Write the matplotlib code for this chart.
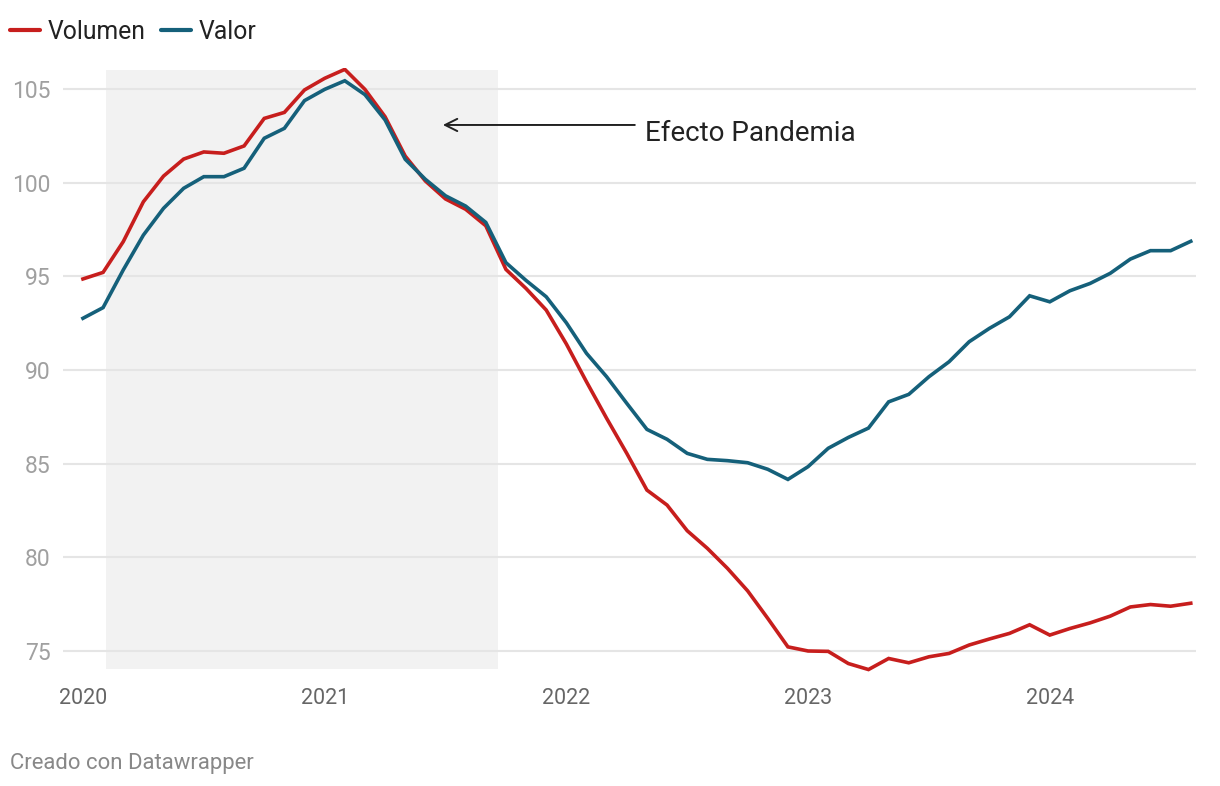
import numpy as np
import matplotlib
matplotlib.use("Agg")
import matplotlib.pyplot as plt

plt.rcParams['font.family'] = ['Roboto', 'DejaVu Sans']

# Indice mensual, enero 2020 - agosto 2024
volumen = [94.86, 95.21, 96.85, 98.98, 100.35, 101.26, 101.64, 101.57, 101.96, 103.43,
           103.75, 104.95, 105.57, 106.05, 104.98, 103.52, 101.42, 100.09, 99.13, 98.58,
           97.70, 95.37, 94.35, 93.20, 91.39, 89.37, 87.42, 85.55, 83.59, 82.79,
           81.42, 80.48, 79.41, 78.21, 76.74, 75.22, 75.00, 74.98, 74.33, 74.01,
           74.60, 74.37, 74.69, 74.87, 75.32, 75.64, 75.94, 76.40, 75.85, 76.20,
           76.50, 76.86, 77.35, 77.48, 77.39, 77.55]
valor = [92.76, 93.33, 95.34, 97.20, 98.63, 99.70, 100.32, 100.32, 100.77, 102.37,
         102.90, 104.38, 104.98, 105.44, 104.70, 103.35, 101.25, 100.18, 99.30, 98.75,
         97.88, 95.73, 94.78, 93.91, 92.52, 90.89, 89.64, 88.22, 86.83, 86.30,
         85.55, 85.23, 85.16, 85.05, 84.70, 84.16, 84.84, 85.82, 86.40, 86.90,
         88.30, 88.70, 89.64, 90.44, 91.51, 92.22, 92.84, 93.96, 93.64, 94.23,
         94.62, 95.16, 95.92, 96.37, 96.37, 96.87]
years = ["2020", "2021", "2022", "2023", "2024"]
yticks = [75, 80, 85, 90, 95, 100, 105]

# periodo sombreado (meses desde ene 2020)
shade_start, shade_end = 1.13, 20.59
shade_low, shade_high = 74.04, 106.0

months = np.arange(len(volumen))

fig = plt.figure(figsize=(12.2, 7.86), dpi=100)
ax = fig.add_axes([63 / 1220, 1 - 671.6 / 786, (1196 - 63) / 1220, (671.6 - 68.4) / 786])

ax.fill_between([shade_start, shade_end], shade_low, shade_high, color="#f2f2f2", lw=0, zorder=0)
for y in yticks:
    ax.axhline(y, color="#e5e5e5", lw=1.5, zorder=1)

ax.plot(months, volumen, color="#c71e1d", lw=2.6, label="Volumen", zorder=3,
        solid_joinstyle="miter")
ax.plot(months, valor, color="#15607a", lw=2.6, label="Valor", zorder=3,
        solid_joinstyle="miter")

ax.annotate("", xy=(17.87, 103.08), xytext=(27.4, 103.08),
            arrowprops=dict(arrowstyle="->", color="#222222", lw=1.4,
                            mutation_scale=22, shrinkA=0, shrinkB=0))
ax.text(27.9, 102.62, "Efecto Pandemia", fontsize=20, color="#222222",
        ha="left", va="center")

ax.set_xlim(-0.99, 55.26)
ax.set_ylim(73.9, 106.1)
ax.set_xticks([0, 12, 24, 36, 48])
ax.set_xticklabels(years)
ax.set_yticks(yticks)
ax.tick_params(axis="x", length=0, pad=12, labelsize=15.5, labelcolor="#666666")
ax.tick_params(axis="y", length=0, pad=9, labelsize=16.5, labelcolor="#a0a0a0")
for s in ax.spines.values():
    s.set_visible(False)

leg = fig.legend(loc="upper left", bbox_to_anchor=(10 / 1220, 1 - 20 / 786), ncol=2,
                 frameon=False, fontsize=17.8, handlelength=1.21, handletextpad=0.3,
                 columnspacing=0.65, borderpad=0, borderaxespad=0, labelcolor="#222222")
for h in leg.legend_handles:
    h.set_solid_capstyle("round")
    h.set_linewidth(3.0)

fig.text(10 / 1220, 1 - 763 / 786, "Creado con Datawrapper", fontsize=15.9,
         color="#888888", ha="left", va="center")

fig.savefig("out.png", dpi=100)
